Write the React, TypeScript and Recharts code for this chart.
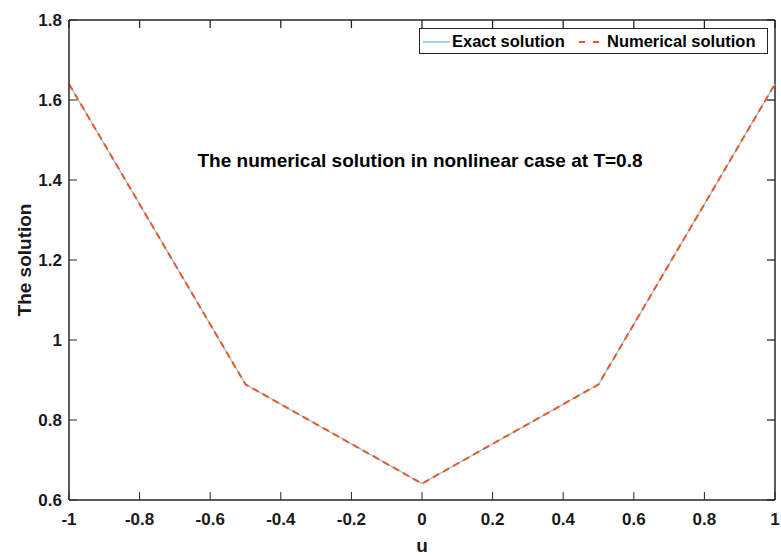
import { CartesianGrid, Legend, Line, LineChart, ReferenceLine, XAxis, YAxis } from 'recharts';

const uValues = [-1, -0.5, 0, 0.5, 1];
const exactValues = [1.64, 0.889, 0.641, 0.889, 1.64];
const numericalValues = [1.64, 0.889, 0.641, 0.889, 1.64];
const xTicks = [-1, -0.8, -0.6, -0.4, -0.2, 0, 0.2, 0.4, 0.6, 0.8, 1];
const yTicks = [0.6, 0.8, 1, 1.2, 1.4, 1.6, 1.8];

const AXIS = '#262626';
const EXACT = '#7cc6e6';
const NUMERICAL = '#f0561f';
const FONT = '"Liberation Sans", Arial, sans-serif';

const X_MIN = -1;
const X_MAX = 1;
const Y_MIN = 0.6;
const Y_MAX = 1.8;
// inward tick length in data units (about 8px on each axis)
const TICK_DX = 0.0227;
const TICK_DY = 0.02;

const data = uValues.map((u, i) => ({ u, exact: exactValues[i], numerical: numericalValues[i] }));

const fmt = (v: number) => String(Number(v.toFixed(1)));
const tickStyle = { fontSize: 17, fontWeight: 700, fill: '#1a1a1a', fontFamily: FONT };

const LegendBox = ({ payload }: any) => {
  const items = payload ?? [];
  const slots = [
    { line: 3, text: 32 },
    { line: 159, text: 187 },
  ];
  return (
    <div
      style={{
        position: 'relative',
        width: 347,
        height: 24,
        border: `1px solid ${AXIS}`,
        background: '#fff',
        fontFamily: FONT,
        fontWeight: 700,
        fontSize: 16.5,
        color: '#000',
      }}
    >
      {items.map((it: any, i: number) => (
        <div key={it.value}>
          <svg
            width={i === 0 ? 27 : 20}
            height={6}
            style={{ position: 'absolute', left: slots[i].line, top: 10 }}
          >
            <line
              x1={0}
              y1={3}
              x2={i === 0 ? 27 : 20}
              y2={3}
              stroke={it.color}
              strokeWidth={i === 0 ? 1.5 : 2}
              strokeDasharray={i === 0 ? undefined : '6 8'}
            />
          </svg>
          <span style={{ position: 'absolute', left: slots[i].text, top: 3, lineHeight: '18px', whiteSpace: 'nowrap' }}>
            {it.value}
          </span>
        </div>
      ))}
    </div>
  );
};

const App = () => (
  <div style={{ position: 'absolute', left: 0, top: 0, width: 781, height: 556, background: '#fff' }}>
    <LineChart width={781} height={556} data={data} margin={{ top: 20, right: 6, bottom: 0, left: 0 }}>
      <CartesianGrid stroke="none" />
      <XAxis
        dataKey="u"
        type="number"
        domain={[X_MIN, X_MAX]}
        ticks={xTicks}
        tickFormatter={fmt}
        height={30}
        stroke={AXIS}
        axisLine={{ stroke: AXIS, strokeWidth: 1.5 }}
        tickSize={-8}
        tickMargin={21}
        tick={tickStyle}
        label={{ value: 'u', position: 'insideBottom', offset: -22, style: { fontSize: 19, fontWeight: 700, fill: '#1a1a1a', fontFamily: FONT } }}
      />
      <YAxis
        type="number"
        domain={[Y_MIN, Y_MAX]}
        ticks={yTicks}
        tickFormatter={fmt}
        width={69}
        stroke={AXIS}
        axisLine={{ stroke: AXIS, strokeWidth: 1.5 }}
        tickSize={-8}
        tickMargin={15}
        tick={tickStyle}
        label={{ value: 'The solution', angle: -90, position: 'center', dx: -10, style: { fontSize: 19, fontWeight: 700, fill: '#1a1a1a', fontFamily: FONT, textAnchor: 'middle' } }}
      />
      {/* top and right edges of the box, with inward ticks */}
      <ReferenceLine y={Y_MAX} stroke={AXIS} strokeWidth={1.5} ifOverflow="extendDomain" />
      <ReferenceLine x={X_MAX} stroke={AXIS} strokeWidth={1.5} ifOverflow="extendDomain" />
      {xTicks.map(t => (
        <ReferenceLine
          key={`tx${t}`}
          segment={[{ x: t, y: Y_MAX }, { x: t, y: Y_MAX - TICK_DY }]}
          stroke={AXIS}
          strokeWidth={1.3}
          ifOverflow="extendDomain"
        />
      ))}
      {yTicks.map(t => (
        <ReferenceLine
          key={`ty${t}`}
          segment={[{ x: X_MAX, y: t }, { x: X_MAX - TICK_DX, y: t }]}
          stroke={AXIS}
          strokeWidth={1.3}
          ifOverflow="extendDomain"
        />
      ))}
      <Legend
        content={<LegendBox />}
        wrapperStyle={{ position: 'absolute', left: 419, top: 28, width: 349, height: 26 }}
      />
      <Line
        dataKey="exact"
        name="Exact solution"
        type="linear"
        stroke={EXACT}
        strokeWidth={1.2}
        dot={false}
        activeDot={false}
        isAnimationActive={false}
      />
      <Line
        dataKey="numerical"
        name="Numerical solution"
        type="linear"
        stroke={NUMERICAL}
        strokeWidth={2}
        strokeDasharray="7 4.5"
        dot={false}
        activeDot={false}
        isAnimationActive={false}
      />
    </LineChart>
    <div
      style={{
        position: 'absolute',
        left: 0,
        width: 840,
        top: 150,
        textAlign: 'center',
        fontFamily: FONT,
        fontWeight: 700,
        fontSize: 19,
        color: '#000',
        lineHeight: '22px',
        whiteSpace: 'nowrap',
      }}
    >
      The numerical solution in nonlinear case at T=0.8
    </div>
  </div>
);

export default App;
